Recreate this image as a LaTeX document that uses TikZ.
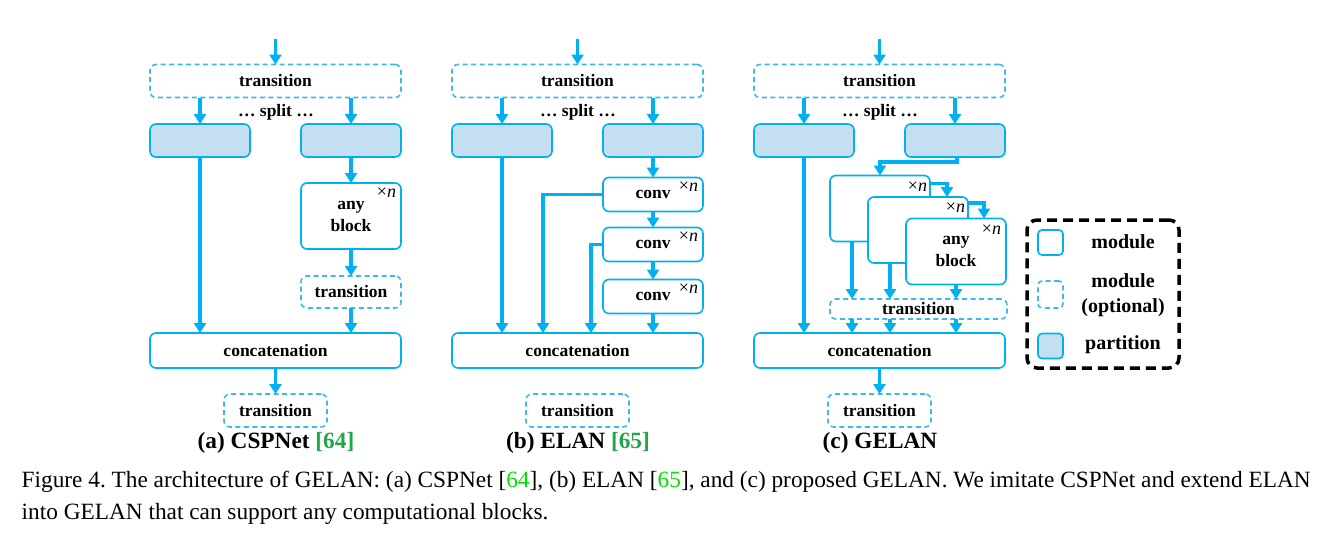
\documentclass[tikz,border=0pt]{standalone}
\usepackage{fontspec}
\setmainfont{Liberation Serif}
\usetikzlibrary{arrows.meta,calc}
\definecolor{cb}{RGB}{0,176,240}
\definecolor{cbl}{RGB}{60,186,236}
\definecolor{cfill}{RGB}{195,223,241}
\definecolor{dgreen}{RGB}{34,166,74}
\definecolor{cgreen}{RGB}{0,225,0}
\newcommand\dfont{\fontsize{17.5}{22}\selectfont\bfseries}
\newcommand\lgfont{\fontsize{20}{24.6}\selectfont\bfseries}
\newcommand\cfont{\fontsize{23.3}{28}\selectfont}
\newcommand\xnfont{\fontsize{18}{18}\selectfont}
\frenchspacing
\begin{document}
\begin{tikzpicture}[x=1pt,y=-1pt,
  every node/.style={inner sep=0pt,outer sep=0pt},
  box/.style={draw=cb,line width=1.6pt,rounded corners=6pt,fill=white,align=center,font=\dfont},
  mod/.style={box},
  opt/.style={box,draw=cbl,dash pattern=on 5pt off 3.5pt},
  part/.style={box,fill=cfill},
  arr/.style={draw=cb,line width=3.2pt,-{Triangle[length=10pt,width=12pt]}},
  xn/.style={font=\xnfont,anchor=north east},
  lbl/.style={font=\dfont},
  sub/.style={font=\cfont\bfseries},
]
\fill[white] (0,0) rectangle (1320,536);
\useasboundingbox (0,0) rectangle (1320,536);

% ---------------- (a) CSPNet ----------------
\coordinate (aIn) at (275.5,39);
\node[opt,minimum width=251,minimum height=33] (aT) at (275.5,81) {transition};
\node[lbl] (aS) at (276,112) {… split …};
\node[part,minimum width=100,minimum height=33] (aP1) at (200,140.5) {};
\node[part,minimum width=100,minimum height=33] (aP2) at (351,140.5) {};
\node[mod,minimum width=100,minimum height=66] (aB) at (351,216) {any\\block};
\node[xn] (aBx) at ([xshift=-5pt,yshift=-5pt]aB.north east) {×\textit{n}};
\node[opt,minimum width=100,minimum height=32] (aT2) at (351,292) {transition};
\node[mod,minimum width=251,minimum height=35] (aC) at (275.5,350.5) {concatenation};
\node[opt,minimum width=103,minimum height=33] (aT3) at (275.5,410.5) {transition};
\node[sub] (aCap) at (276,443) {(a) CSPNet \textcolor{dgreen}{[64]}};
\draw[arr] (aIn) -- (aT.north);
\draw[arr] (aT.south -| aP1.north) -- (aP1.north);
\draw[arr] (aT.south -| aP2.north) -- (aP2.north);
\draw[arr] (aP1.south) -- (aP1.south |- aC.north);
\draw[arr] (aP2.south) -- (aB.north);
\draw[arr] (aB.south) -- (aT2.north);
\draw[arr] (aT2.south) -- (aT2.south |- aC.north);
\draw[arr] (aC.south) -- (aT3.north);

% ---------------- (b) ELAN ----------------
\coordinate (bIn) at (577.5,39);
\node[opt,minimum width=251,minimum height=33] (bT) at (577.5,81) {transition};
\node[lbl] (bS) at (578,112) {… split …};
\node[part,minimum width=100,minimum height=33] (bP1) at (502,140.5) {};
\node[part,minimum width=100,minimum height=33] (bP2) at (653,140.5) {};
\node[mod,minimum width=100,minimum height=34] (bC1) at (653,194.5) {conv};
\node[xn] (bC1x) at ([xshift=-5pt,yshift=-4pt]bC1.north east) {×\textit{n}};
\node[mod,minimum width=100,minimum height=34] (bC2) at (653,244.5) {conv};
\node[xn] (bC2x) at ([xshift=-5pt,yshift=-4pt]bC2.north east) {×\textit{n}};
\node[mod,minimum width=100,minimum height=34] (bC3) at (653,296.5) {conv};
\node[xn] (bC3x) at ([xshift=-5pt,yshift=-4pt]bC3.north east) {×\textit{n}};
\node[mod,minimum width=251,minimum height=35] (bC) at (577.5,350.5) {concatenation};
\node[opt,minimum width=103,minimum height=33] (bT3) at (577.5,410.5) {transition};
\node[sub] (bCap) at (578,443) {(b) ELAN \textcolor{dgreen}{[65]}};
\draw[arr] (bIn) -- (bT.north);
\draw[arr] (bT.south -| bP1.north) -- (bP1.north);
\draw[arr] (bT.south -| bP2.north) -- (bP2.north);
\draw[arr] (bP1.south) -- (bP1.south |- bC.north);
\draw[arr] (bP2.south) -- (bC1.north);
\draw[arr] (bC1.south) -- (bC2.north);
\draw[arr] (bC2.south) -- (bC3.north);
\draw[arr] (bC3.south) -- (bC3.south |- bC.north);
\draw[arr] (bC1.west) -| ([xshift=91pt]bC.north west);
\draw[arr] (bC2.west) -| ([xshift=139pt]bC.north west);

% ---------------- (c) GELAN ----------------
\coordinate (cIn) at (879.5,39);
\node[opt,minimum width=251,minimum height=33] (cT) at (879.5,81) {transition};
\node[lbl] (cS) at (880,112) {… split …};
\node[part,minimum width=100,minimum height=33] (cP1) at (804,140.5) {};
\node[part,minimum width=100,minimum height=33] (cP2) at (955,140.5) {};
\node[mod,minimum width=100,minimum height=66] (cB1) at (880,208.5) {};
\node[xn] (cB1x) at ([xshift=-3pt,yshift=-6pt]cB1.north east) {×\textit{n}};
\node[mod,minimum width=100,minimum height=66] (cB2) at (918,230) {};
\node[xn] (cB2x) at ([xshift=-3pt,yshift=-6pt]cB2.north east) {×\textit{n}};
\node[mod,minimum width=100,minimum height=66] (cB3) at (956,251.5) {any\\block};
\node[xn] (cB3x) at ([xshift=-5pt,yshift=-6pt]cB3.north east) {×\textit{n}};
\node[opt,minimum width=177,minimum height=20] (cT2) at (918.5,309) {transition};
\node[mod,minimum width=251,minimum height=35] (cC) at (879.5,350.5) {concatenation};
\node[opt,minimum width=103,minimum height=33] (cT3) at (879.5,410.5) {transition};
\node[sub] (cCap) at (880,443) {(c) GELAN};
\draw[arr] (cIn) -- (cT.north);
\draw[arr] (cT.south -| cP1.north) -- (cP1.north);
\draw[arr] (cT.south -| cP2.north) -- (cP2.north);
\draw[arr] (cP1.south) -- (cP1.south |- cC.north);
\draw[arr] ([xshift=2pt]cP2.south) -- ++(0,5) -| (cB1.north);
\draw[arr] ([yshift=-8pt]cB1.north east) -| ([xshift=-21pt]cB2.north east);
\draw[arr] ([yshift=-6pt]cB2.north east) -| ([xshift=-22pt]cB3.north east);
\coordinate (g1) at ([xshift=-28pt]cB1.south);
\coordinate (g2) at ([xshift=-28pt]cB2.south);
\coordinate (g3) at (cB3.south);
\draw[arr] (g1) -- (g1 |- cT2.north);
\draw[arr] (g2) -- (g2 |- cT2.north);
\draw[arr] (g3) -- (g3 |- cT2.north);
\draw[arr] (g1 |- cT2.south) -- (g1 |- cC.north);
\draw[arr] (g2 |- cT2.south) -- (g2 |- cC.north);
\draw[arr] (g3 |- cT2.south) -- (g3 |- cC.north);
\draw[arr] (cC.south) -- (cT3.north);

% ---------------- legend ----------------
\node[draw=black,line width=3.5pt,dash pattern=on 10pt off 6pt,rounded corners=10pt,minimum width=152,minimum height=148] (lg) at (1103,294) {};
\node[mod,minimum width=25,minimum height=25,rounded corners=4pt] (l1) at (1050.5,242.5) {};
\node[opt,minimum width=25,minimum height=27,rounded corners=4pt] (l2) at (1050.5,294.5) {};
\node[part,minimum width=25,minimum height=25,rounded corners=4pt] (l3) at (1050.5,346) {};
\node[font=\lgfont] (l1t) at (1123,242) {module};
\node[font=\lgfont,align=center] (l2t) at (1123,295) {module\\(optional)};
\node[font=\lgfont] (l3t) at (1123,345) {partition};

% ---------------- figure caption ----------------
\node[font=\cfont,anchor=base west] (f1) at (21.7,487.7) {Figure 4. The architecture of GELAN: (a) CSPNet [\textcolor{cgreen}{64}], (b) ELAN [\textcolor{cgreen}{65}], and (c) proposed GELAN. We imitate CSPNet and extend ELAN};
\node[font=\cfont,anchor=base west] (f2) at (21.7,519.3) {into GELAN that can support any computational blocks.};
\end{tikzpicture}
\end{document}
